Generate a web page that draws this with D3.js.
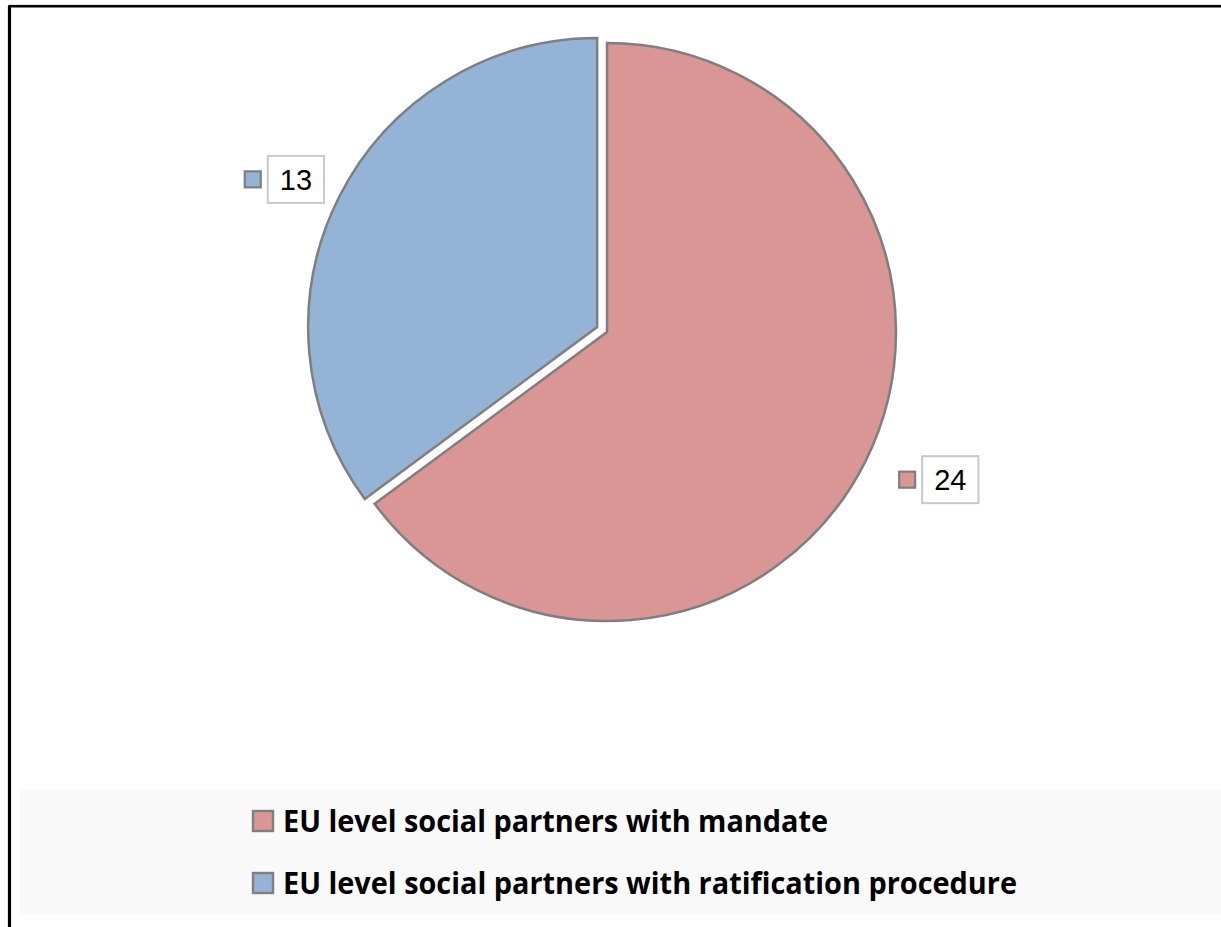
<!DOCTYPE html>
<html>
<head>
<meta charset="utf-8">
<script src="https://cdn.jsdelivr.net/npm/d3@7"></script>
<style>
    body { margin: 0; background: #ffffff; }
    svg { display: block; }
</style>
</head>
<body>
<svg id="chartSVG" width="1221" height="927"></svg>
<script>
/* ---------- Data ---------- */
const categories = ["EU level social partners with mandate", "EU level social partners with ratification procedure"];
const values = [24, 13];
const sliceColours = ["#d99694", "#95b3d7"];
const explodedSlice = [false, true];

/* ---------- Layout ---------- */
const pieCentre = [607, 332];
const pieRadius = 289;
const explodeBy = 11;
// labels sit on a slightly taller-than-wide ring round the pie
const labelRadiusX = 316;
const labelRadiusY = 328;
const strokeGrey = "#7f7f7f";

var svg = d3.select("#chartSVG");

// chart frame (only top and left edges are visible in the crop)
svg.append("rect")
    .attr("x", 9.5).attr("y", 6.2)
    .attr("width", 1300).attr("height", 1000)
    .attr("fill", "none")
    .attr("stroke", "#000")
    .attr("stroke-width", 2.6);
svg.append("line")
    .attr("x1", 9.5).attr("x2", 9.5).attr("y1", 6).attr("y2", 927)
    .attr("stroke", "#000").attr("stroke-width", 3.2);

/* ---------- Pie ---------- */
var pieData = d3.pie().sort(null).value((d) => d)(values);
var arc = d3.arc().innerRadius(0).outerRadius(pieRadius);

var pieGroup = svg.append("g")
    .attr("transform", "translate(" + pieCentre[0] + "," + pieCentre[1] + ")");

var offsetOf = function(d, i) {
    if (!explodedSlice[i]) return [0, 0];
    var mid = (d.startAngle + d.endAngle) / 2;
    return [Math.sin(mid) * explodeBy, -Math.cos(mid) * explodeBy];
};

pieGroup.selectAll("path.slice")
    .data(pieData)
    .enter().append("path")
        .attr("class", "slice")
        .attr("d", arc)
        .attr("transform", (d, i) => "translate(" + offsetOf(d, i) + ")")
        .attr("fill", (d, i) => sliceColours[i])
        .attr("stroke", strokeGrey)
        .attr("stroke-width", 2.5)
        .attr("stroke-linejoin", "miter");

/* ---------- Data labels ---------- */
const keySize = 18, keyGap = 6, boxH = 47, boxPad = 12;

pieData.forEach((d, i) => {
    var off = offsetOf(d, i);
    var mid = (d.startAngle + d.endAngle) / 2;
    var px = Math.sin(mid) * labelRadiusX + off[0] + keySize / 2;
    var py = -Math.cos(mid) * labelRadiusY + off[1];
    var g = pieGroup.append("g");
    var txt = g.append("text")
        .text(values[i])
        .attr("font-family", "'Liberation Sans', Arial, sans-serif")
        .attr("font-size", 29)
        .attr("fill", "#000")
        .attr("text-anchor", "middle");
    var tw = txt.node().getComputedTextLength();
    var boxW = tw + boxPad * 2;
    var totalW = keySize + keyGap + boxW;
    var left = Math.sin(mid) >= 0 ? px : px - totalW;
    var top = py - boxH / 2;
    g.insert("rect", "text")
        .attr("x", left + keySize + keyGap).attr("y", top)
        .attr("width", boxW).attr("height", boxH)
        .attr("fill", "#fff")
        .attr("stroke", "#c9c9c9")
        .attr("stroke-width", 2);
    g.append("rect")
        .attr("x", left + 1).attr("y", py - keySize / 2 + 1)
        .attr("width", keySize - 2).attr("height", keySize - 2)
        .attr("fill", sliceColours[i])
        .attr("stroke", strokeGrey)
        .attr("stroke-width", 2.2);
    txt.attr("x", left + keySize + keyGap + boxW / 2)
        .attr("y", py + 10.5);
});

/* ---------- Legend ---------- */
var legendTop = 790, legendBottom = 914;
svg.append("rect")
    .attr("x", 20).attr("y", legendTop)
    .attr("width", 1201).attr("height", legendBottom - legendTop)
    .attr("fill", "#f9f9f9");

var rowScale = d3.scaleBand()
    .domain(categories)
    .range([legendTop + 5, legendBottom + 5]);
var legendTextWidths = [545, 734];

var legend = svg.append("g").attr("id", "legend");
categories.forEach((name, i) => {
    var y = rowScale(name) + rowScale.bandwidth() / 2;
    legend.append("rect")
        .attr("x", 253).attr("y", y - 15)
        .attr("width", 20).attr("height", 20)
        .attr("fill", sliceColours[i])
        .attr("stroke", strokeGrey)
        .attr("stroke-width", 2.4);
    legend.append("text")
        .text(name)
        .attr("x", 283).attr("y", y + 6)
        .attr("font-family", "'Open Sans', 'Noto Sans', sans-serif")
        .attr("font-weight", "bold")
        .attr("font-size", 30)
        .attr("textLength", legendTextWidths[i])
        .attr("lengthAdjust", "spacingAndGlyphs")
        .attr("fill", "#000");
});
</script>
</body>
</html>
